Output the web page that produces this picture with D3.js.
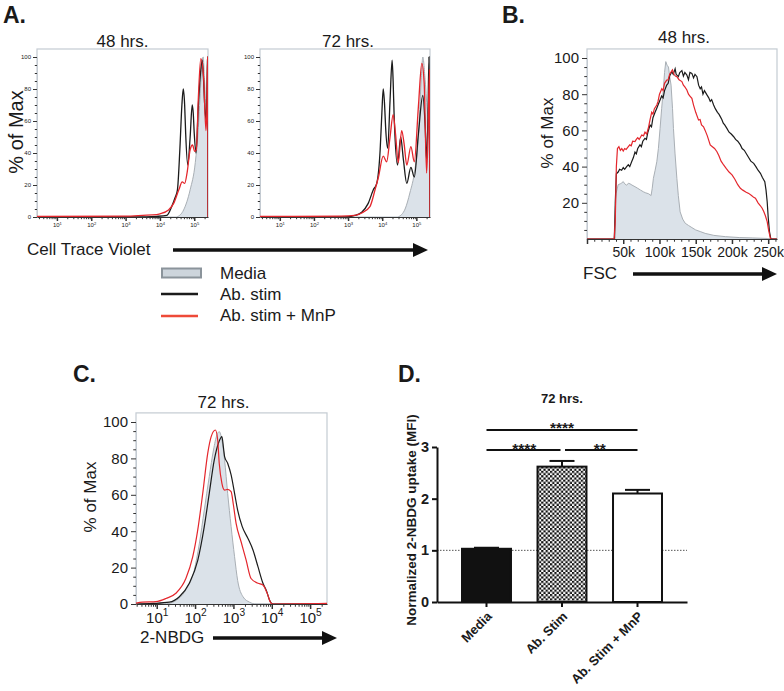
<!DOCTYPE html>
<html>
<head>
<meta charset="utf-8">
<script src="https://cdn.jsdelivr.net/npm/d3@7/dist/d3.min.js"></script>
<style>
  body { margin: 0; background: #fff; }
  svg text { font-family: "Liberation Sans", Arial, Helvetica, sans-serif; fill: #1a1a1a; }
</style>
</head>
<body>
<svg id="fig" width="784" height="691"></svg>
<script>
// ---- data ----
// histograms: [x, % of Max]; for log channels x = log10(intensity), for FSC x = thousands
var ctv48Media = [[4.50,0],[4.69,4.4],[4.88,17],[5.03,34],[5.12,56],[5.19,84],[5.23,98],[5.26,100],[5.30,85],[5.35,65],[5.385,60],[5.40,0]];
var ctv48Stim = [[0.42,0],[3.3,0],[3.9,0.4],[4.2,1],[4.34,6.4],[4.44,12],[4.51,17],[4.58,42],[4.64,70],[4.68,80],[4.72,70],[4.75,52],[4.81,32.5],[4.88,50],[4.94,70],[4.97,65],[5.00,52],[5.05,40],[5.12,70],[5.19,92],[5.23,98],[5.26,90],[5.31,68],[5.35,60],[5.385,98],[5.395,100],[5.40,0]];
var ctv48Mnp = [[0.42,0.3],[3.0,0.5],[3.5,1],[3.9,1.5],[4.0,2],[4.25,4.4],[4.4,8.5],[4.55,17],[4.65,22],[4.72,21],[4.79,27.5],[4.88,42],[4.95,45],[5.01,41],[5.06,42],[5.12,75],[5.19,99],[5.27,88],[5.34,54],[5.37,70],[5.39,100],[5.40,0]];

var ctv72Media = [[4.47,0],[4.67,5],[4.81,15],[4.96,30],[5.06,50],[5.14,85],[5.19,100],[5.26,85],[5.33,65],[5.385,60],[5.40,0]];
var ctv72Stim = [[0.42,0],[2.9,0],[3.2,1],[3.4,3],[3.59,8.5],[3.74,17],[3.84,21],[3.94,42],[3.99,65],[4.03,80],[4.07,70],[4.10,56],[4.16,43],[4.23,73],[4.29,98],[4.32,85],[4.35,63],[4.45,32.5],[4.54,50],[4.62,36],[4.72,21],[4.84,31],[4.94,25],[5.06,52],[5.19,76],[5.26,56],[5.30,36],[5.34,62],[5.37,100],[5.40,0]];
var ctv72Mnp = [[0.42,0.3],[2.8,0.5],[3.2,1],[3.4,2.5],[3.64,6.5],[3.79,17],[3.89,25],[4.03,38],[4.13,34.5],[4.23,50],[4.32,64],[4.39,52],[4.47,34],[4.57,54],[4.64,46],[4.72,32.5],[4.84,44],[4.94,34.5],[5.06,69],[5.16,96],[5.23,83.5],[5.30,27.5],[5.34,50],[5.385,92],[5.40,0]];

var fscMedia = [[0,0],[37,0],[38.5,10],[40,25],[43,30],[46,30.5],[48,31],[50,31.7],[52,30.5],[54.7,29.7],[57,30.8],[59.3,30.5],[62,29.8],[66.2,28.9],[70,28],[74,27],[77.7,26.1],[81,25.5],[85,25],[88.4,24],[90,28],[91.6,33.5],[94,38],[96.3,42.7],[98.5,50],[100.8,61],[103,72],[105.4,83],[107,92],[108.7,98],[110.5,96],[112.4,95],[114,90],[116,85],[118,72],[119.3,61],[121.5,47],[124,33.5],[126,24],[128.5,15],[132,11],[135.5,8.7],[140,7.5],[144.7,6.3],[150,5],[157,4],[163,3.1],[175,2],[190.8,1.3],[210,0.8],[227.8,0.6],[248.6,0.3],[253,0],[262,0]];
var fscStim = [[0,0],[38,0],[39,20],[40.5,36],[43,37],[45,38.5],[47.8,38],[50,39.5],[52,38.5],[54.7,40],[57,41],[59,40],[61.6,42.7],[64,45],[66.2,48],[68,47],[70,50],[73.1,52],[75,51],[77,54],[80,55.6],[82,55],[84,59],[87,63],[89,62],[91,67],[93.9,70],[96,72],[98,74],[100.8,76.8],[103,79],[105,78],[107,82],[110,85],[112,86],[114,90],[117,92.4],[119,91],[121.6,94],[123,91],[126,89.7],[128,92],[130.9,93],[133,90],[135,92],[137.8,90.6],[140,88],[142,92],[144.7,91.5],[147,89],[149,91],[151.7,89.7],[154,85],[156.2,83],[158,84],[160,80],[162,82],[165.5,79.6],[168,78],[170,76],[172,77],[174.7,74],[177,72],[180,70],[182,69],[183.9,67.6],[186,66],[188,64],[190,63],[193.2,61],[196,59],[199,58],[202.4,56.5],[205,55],[208,54],[211.6,52],[214,50],[217,49],[220.9,46.4],[223,45],[226,43],[230,41.8],[233,40],[236,38],[239.3,36.3],[242,34],[245.3,31.7],[247,27],[248.6,20.6],[250,12],[251.8,4],[253.7,0],[262,0]];
var fscMnp = [[0,0],[37.5,0],[39,10],[40.5,40],[42,50],[44,51],[46,49],[48,50],[50,48.6],[52,50],[54,49.5],[57,51],[59,52],[61,51.5],[63,54],[66.2,53.8],[68,55],[70,56],[72,55],[75.5,57.5],[78,57],[80,59],[82.4,58],[85,62],[87,66],[89.3,70],[91,69],[93,72],[96.3,74],[98,76],[100,80],[103.2,83],[105,82],[107,86],[110,87.8],[112,88],[114,91],[117.9,93.4],[120,91],[122,90],[124,89.7],[127,88],[130.9,87],[133,85],[135,84],[137.8,82.3],[140,80],[142,79],[144.7,77.7],[147,74],[150,70],[153.9,65.7],[156,66],[158,63],[160.8,62],[163,60],[166,57],[170,52],[173,51],[176,50],[179.3,48.2],[182,46],[185,43],[188.5,40.9],[192,39],[196,37],[200.1,35.4],[204,33],[208,30],[211.6,28],[215,27],[219,26],[223.1,25.2],[227,24],[230,23],[232.4,22.5],[236,20],[239,18.5],[241.7,17],[244,15],[246,13],[248.6,9.6],[250.5,5],[253.2,0],[262,0]];

var nbdgMedia = [[0.46,0],[1.2,0],[1.42,1],[1.6,3.5],[1.76,7.7],[1.98,18.7],[2.11,33],[2.24,51.6],[2.37,70],[2.48,84.6],[2.57,92.9],[2.63,94.7],[2.70,90],[2.77,79],[2.85,60.8],[2.94,42.5],[3.03,26],[3.11,13],[3.25,4],[3.42,1],[3.59,0],[5.44,0]];
var nbdgStim = [[0.46,0],[0.9,0.3],[1.33,1],[1.59,4],[1.85,11.4],[2.07,24],[2.24,42.5],[2.37,60.8],[2.50,79],[2.62,89],[2.70,92],[2.74,86],[2.77,81],[2.85,77.3],[2.94,70.9],[3.03,60.8],[3.11,51.6],[3.23,42.5],[3.38,36],[3.51,29.7],[3.64,20.5],[3.77,11.4],[3.87,6.8],[3.94,2.2],[4.03,0],[5.44,0]];
var nbdgMnp = [[0.46,0.5],[0.63,1],[0.98,1.3],[1.24,3],[1.50,5.9],[1.76,14],[1.94,26],[2.07,40.7],[2.20,60.8],[2.33,82.8],[2.42,92],[2.53,95.6],[2.59,90],[2.63,77.3],[2.70,66.3],[2.77,62.6],[2.85,63],[2.94,61.7],[3.00,54.4],[3.07,44.3],[3.20,34.2],[3.33,24.2],[3.46,14],[3.64,11.4],[3.77,10.4],[3.88,5.9],[3.98,0.5],[4.03,0],[5.44,0.3]];

// bar chart (panel D)
var dGroups = ["Media", "Ab. Stim", "Ab. Stim + MnP"];
var dMeans = [1.03, 2.62, 2.10];
var dSem = [0.02, 0.11, 0.07];
var dSig = [
  {from: 0, to: 2, level: 3.33, label: "****", gapL: 0, gapR: 0},
  {from: 0, to: 1, level: 2.94, label: "****", gapL: 0, gapR: 1.5},
  {from: 1, to: 2, level: 2.94, label: "**", gapL: 3, gapR: 0}
];

var legendLabels = ["Media", "Ab. stim", "Ab. stim + MnP"];
var percentTicks = [0, 20, 40, 60, 80, 100];
var fscTicks = [0, 50000, 100000, 150000, 200000, 250000];

// ---- drawing ----
var COL = {stim: "#1b1b1b", mnp: "#e4262c", mediaFill: "#dbe2e9", mediaLine: "#a9afb5", frame: "#c4cbd2", axis: "#333"};
var svg = d3.select("#fig");

var defs = svg.append("defs");
var chk = defs.append("pattern").attr("id", "checker").attr("patternUnits", "userSpaceOnUse")
  .attr("width", 4.4).attr("height", 4.4);
chk.append("rect").attr("width", 4.4).attr("height", 4.4).attr("fill", "#fff");
chk.append("rect").attr("width", 2.2).attr("height", 2.2).attr("fill", "#111");
chk.append("rect").attr("x", 2.2).attr("y", 2.2).attr("width", 2.2).attr("height", 2.2).attr("fill", "#111");

function pow10Labels(sel, fs) {
  sel.selectAll(".tick text").each(function(d) {
    var t = d3.select(this).text("");
    t.append("tspan").text("10");
    t.append("tspan").attr("dy", -fs * 0.42).attr("font-size", fs * 0.68).text(Math.round(Math.log10(d)));
  });
}

function styleAxis(sel, domainColor) {
  sel.select(".domain").attr("stroke", domainColor);
  sel.selectAll(".tick line").attr("stroke", COL.axis);
}

function histPanel(p) {
  var g = svg.append("g");
  var x = p.x;
  var y = d3.scaleLinear().domain([0, 100]).range([p.y0, p.y100]);
  var left = x.range()[0], right = x.range()[1], top = y(105);
  var X = function(d) { return x(p.xv(d[0])); }, Y = function(d) { return y(d[1]); };
  var line = d3.line().curve(p.curve).x(X).y(Y);
  var area = d3.area().curve(p.curve).x(X).y0(y(0)).y1(Y);

  g.append("rect").attr("x", left).attr("y", top).attr("width", right - left).attr("height", p.y0 - top)
    .attr("fill", "none").attr("stroke", COL.frame).attr("stroke-width", 1.2);

  // y axis
  var ya = g.append("g").attr("transform", "translate(" + left + ",0)")
    .call(d3.axisLeft(y).tickValues(p.yTicks).tickSize(p.tick).tickPadding(p.pad).tickSizeOuter(0));
  ya.selectAll(".tick text").attr("font-size", p.fs).attr("fill", p.labelColor);
  styleAxis(ya, COL.frame);
  var ym = g.append("g").attr("transform", "translate(" + left + ",0)")
    .call(d3.axisLeft(y).tickValues(d3.range(0, 101, 5).filter(function(v) { return v % 20; })).tickSize(p.tick * 0.55).tickFormat("").tickSizeOuter(0));
  styleAxis(ym, "none");

  // x axis
  var xa = g.append("g").attr("transform", "translate(0," + p.y0 + ")")
    .call(d3.axisBottom(x).tickValues(p.xTicks).tickSize(p.tick).tickPadding(p.pad).tickSizeOuter(0).tickFormat(p.xFormat || null));
  xa.selectAll(".tick text").attr("font-size", p.xfs || p.fs).attr("fill", p.labelColor);
  xa.selectAll(".tick line").attr("stroke-width", 1.5);
  styleAxis(xa, COL.axis);
  if (p.logLabels) pow10Labels(xa, p.fs);
  var xm = g.append("g").attr("transform", "translate(0," + p.y0 + ")")
    .call(d3.axisBottom(x).tickValues(p.xMinor).tickSize(p.tick * 0.55).tickFormat("").tickSizeOuter(0));
  styleAxis(xm, "none");

  // curves
  var clipId = "clip-" + p.id;
  g.append("clipPath").attr("id", clipId).append("rect")
    .attr("x", left).attr("y", top - 2).attr("width", right - left).attr("height", p.y0 - top + 2);
  var plot = g.append("g").attr("clip-path", "url(#" + clipId + ")");
  plot.append("path").datum(p.media).attr("d", area).attr("fill", COL.mediaFill);
  plot.append("path").datum(p.media).attr("d", line).attr("fill", "none").attr("stroke", COL.mediaLine).attr("stroke-width", 1);
  plot.append("path").datum(p.stim).attr("d", line).attr("fill", "none").attr("stroke", COL.stim).attr("stroke-width", p.lw);
  plot.append("path").datum(p.mnp).attr("d", line).attr("fill", "none").attr("stroke", COL.mnp).attr("stroke-width", p.lw);

  if (p.title) {
    g.append("text").attr("x", (left + right) / 2 + (p.titleDx || 0)).attr("y", p.titleY)
      .attr("text-anchor", "middle").attr("font-size", 17).text(p.title);
  }
  return g;
}

function arrow(x0, x1, yy, label, lx, ly) {
  var g = svg.append("g");
  g.append("line").attr("x1", x0).attr("x2", x1 - 12).attr("y1", yy).attr("y2", yy)
    .attr("stroke", "#111").attr("stroke-width", 3.5);
  g.append("path").attr("d", "M" + (x1 - 15) + "," + (yy - 7) + "L" + x1 + "," + yy + "L" + (x1 - 15) + "," + (yy + 7) + "Z").attr("fill", "#111");
  g.append("text").attr("x", lx).attr("y", ly).attr("font-size", 17).text(label);
}

function yLabel(xx, yy, fs, txt, bold) {
  svg.append("text").attr("transform", "translate(" + xx + "," + yy + ") rotate(-90)")
    .attr("text-anchor", "middle").attr("font-size", fs).attr("font-weight", bold ? "bold" : null).text(txt);
}

function panelLetter(xx, yy, t) {
  svg.append("text").attr("x", xx).attr("y", yy).attr("font-size", 23).attr("font-weight", "bold").text(t);
}

function logMinor(x) {
  var d = x.domain();
  return x.ticks().filter(function(v) {
    var e = Math.log10(v);
    return Math.abs(e - Math.round(e)) > 1e-6 && v >= d[0] && v <= d[1];
  });
}

var pow10 = function(e) { return Math.pow(10, e); };
var smallPanel = {yTicks: percentTicks, tick: 4, pad: 2, fs: 6, labelColor: "#444", lw: 1.3,
  curve: d3.curveMonotoneX, xv: pow10, logLabels: true, xTicks: [1e1, 1e2, 1e3, 1e4, 1e5]};

// ---- Panel A ----
panelLetter(3, 23, "A.");
var xA1 = d3.scaleLog().domain([pow10(0.42), pow10(5.40)]).range([37, 208]);
histPanel(Object.assign({}, smallPanel, {id: "a1", x: xA1, xMinor: logMinor(xA1), y0: 217, y100: 57,
  media: ctv48Media, stim: ctv48Stim, mnp: ctv48Mnp, title: "48 hrs.", titleY: 47}));
var xA2 = d3.scaleLog().domain([pow10(0.42), pow10(5.40)]).range([260, 430]);
histPanel(Object.assign({}, smallPanel, {id: "a2", x: xA2, xMinor: logMinor(xA2), y0: 217, y100: 57,
  media: ctv72Media, stim: ctv72Stim, mnp: ctv72Mnp, title: "72 hrs.", titleY: 47, titleDx: 3}));
yLabel(23, 132, 20, "% of Max");
arrow(173, 428, 250, "Cell Trace Violet", 27, 255);

// legend
var leg = svg.append("g");
leg.append("rect").attr("x", 162).attr("y", 268.5).attr("width", 39).attr("height", 9)
  .attr("fill", "#cdd5dc").attr("stroke", "#8b949b").attr("stroke-width", 2);
leg.append("line").attr("x1", 161).attr("x2", 198).attr("y1", 294).attr("y2", 294).attr("stroke", COL.stim).attr("stroke-width", 2.5);
leg.append("line").attr("x1", 161).attr("x2", 198).attr("y1", 316).attr("y2", 316).attr("stroke", "#ee4a38").attr("stroke-width", 2.5);
leg.selectAll("text.lg").data(legendLabels).enter().append("text").attr("class", "lg")
  .attr("x", 220).attr("y", function(d, i) { return 279 + i * 21; }).attr("font-size", 17).text(function(d) { return d; });

// ---- Panel B ----
panelLetter(502, 23, "B.");
var xB = d3.scaleLinear().domain([0, 262144]).range([587, 777]);
histPanel({id: "b", x: xB, xv: function(k) { return k * 1000; }, y0: 239, y100: 58,
  yTicks: percentTicks.slice(1), tick: 5, pad: 3, fs: 15, xfs: 14, labelColor: "#1a1a1a", lw: 1.2,
  curve: d3.curveLinear, xTicks: fscTicks, xMinor: d3.range(0, 262144, 10000).filter(function(v) { return v % 50000; }),
  xFormat: function(v) { return v ? (v / 1000) + "k" : ""; },
  media: fscMedia, stim: fscStim, mnp: fscMnp, title: "48 hrs.", titleY: 43, titleDx: 2});
yLabel(553, 133, 17, "% of Max");
arrow(633, 777, 274, "FSC", 583, 279);

// ---- Panel C ----
panelLetter(73, 382, "C.");
var xC = d3.scaleLog().domain([pow10(0.46), pow10(5.44)]).range([136, 327]);
histPanel(Object.assign({}, smallPanel, {id: "c", x: xC, xMinor: logMinor(xC), y0: 604, y100: 422,
  tick: 5, pad: 3, fs: 15, labelColor: "#1a1a1a", lw: 1.2,
  media: nbdgMedia, stim: nbdgStim, mnp: nbdgMnp, title: "72 hrs.", titleY: 408, titleDx: -8}));
yLabel(96, 497, 17, "% of Max");
arrow(213, 337, 638, "2-NBDG", 140, 643);

// ---- Panel D ----
panelLetter(398, 382, "D.");
var dx = d3.scaleBand().domain(dGroups).range([437, 687]).paddingInner(0.325).paddingOuter(0.318);
var dy = d3.scaleLinear().domain([0, 3]).range([602, 447]);
var gD = svg.append("g");

gD.append("line").attr("x1", 437).attr("x2", 687).attr("y1", dy(1)).attr("y2", dy(1))
  .attr("stroke", "#555").attr("stroke-width", 1).attr("stroke-dasharray", "1.5,1.5");

var fills = ["#111", "url(#checker)", "#fff"];
gD.selectAll("rect.bar").data(dGroups).enter().append("rect").attr("class", "bar")
  .attr("x", function(d) { return dx(d) + 1; }).attr("width", dx.bandwidth() - 2)
  .attr("y", function(d, i) { return dy(dMeans[i]); })
  .attr("height", function(d, i) { return dy(0) - dy(dMeans[i]); })
  .attr("fill", function(d, i) { return fills[i]; })
  .attr("stroke", "#111").attr("stroke-width", 2);

var eg = gD.selectAll("g.err").data(dGroups).enter().append("g").attr("class", "err");
eg.append("line").attr("x1", function(d) { return dx(d) + dx.bandwidth() / 2; }).attr("x2", function(d) { return dx(d) + dx.bandwidth() / 2; })
  .attr("y1", function(d, i) { return dy(dMeans[i]); }).attr("y2", function(d, i) { return dy(dMeans[i] + dSem[i]); })
  .attr("stroke", "#111").attr("stroke-width", 2);
eg.append("line").attr("x1", function(d) { return dx(d) + dx.bandwidth() / 2 - 12.5; }).attr("x2", function(d) { return dx(d) + dx.bandwidth() / 2 + 12.5; })
  .attr("y1", function(d, i) { return dy(dMeans[i] + dSem[i]); }).attr("y2", function(d, i) { return dy(dMeans[i] + dSem[i]); })
  .attr("stroke", "#111").attr("stroke-width", 2);

var yAxD = gD.append("g").attr("transform", "translate(437,0)")
  .call(d3.axisLeft(dy).tickValues([0, 1, 2, 3]).tickSize(5).tickPadding(3).tickSizeOuter(0).tickFormat(d3.format("d")));
yAxD.select(".domain").attr("stroke", "#111").attr("stroke-width", 2);
yAxD.selectAll(".tick line").attr("stroke", "#111").attr("stroke-width", 2);
yAxD.selectAll(".tick text").attr("font-size", 14.5).attr("font-weight", "bold");

var xAxD = gD.append("g").attr("transform", "translate(0,602)")
  .call(d3.axisBottom(dx).tickSize(5).tickSizeOuter(0));
xAxD.select(".domain").attr("stroke", "#111").attr("stroke-width", 2);
xAxD.selectAll(".tick line").attr("stroke", "#111").attr("stroke-width", 2);
xAxD.selectAll(".tick text").attr("font-size", 13).attr("font-weight", "bold")
  .attr("text-anchor", "end").attr("x", 0).attr("y", 0).attr("dy", "0.35em")
  .attr("transform", "translate(3,12) rotate(-45)");

var cx = function(i) { return dx(dGroups[i]) + dx.bandwidth() / 2; };
var sg = gD.selectAll("g.sig").data(dSig).enter().append("g").attr("class", "sig");
sg.append("line").attr("x1", function(d) { return cx(d.from) + d.gapL; }).attr("x2", function(d) { return cx(d.to) - d.gapR; })
  .attr("y1", function(d) { return dy(d.level); }).attr("y2", function(d) { return dy(d.level); })
  .attr("stroke", "#111").attr("stroke-width", 2);
sg.append("text").attr("x", function(d) { return (cx(d.from) + cx(d.to)) / 2; })
  .attr("y", function(d) { return dy(d.level) + 3.5; })
  .attr("text-anchor", "middle").attr("font-size", 15.5).attr("font-weight", "bold").text(function(d) { return d.label; });

gD.append("text").attr("x", 562).attr("y", 403).attr("text-anchor", "middle")
  .attr("font-size", 13).attr("font-weight", "bold").text("72 hrs.");
yLabel(416, 520, 13.5, "Normalized 2-NBDG uptake (MFI)", true);
</script>
</body>
</html>
